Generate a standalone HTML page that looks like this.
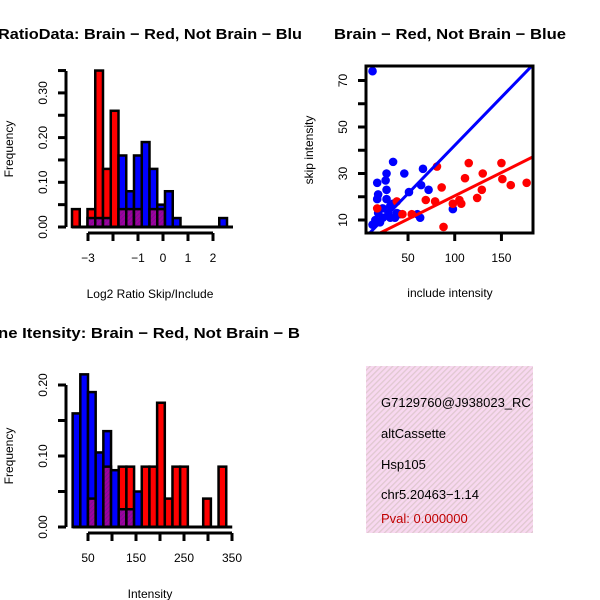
<!DOCTYPE html>
<html><head><meta charset="utf-8"><style>
html,body{margin:0;padding:0;background:#fff;}
svg{display:block;font-family:"Liberation Sans",sans-serif;}
</style></head><body>
<svg id="chart" width="600" height="600" viewBox="0 0 600 600" xmlns="http://www.w3.org/2000/svg">
<defs>
<pattern id="purp" width="3" height="3" patternUnits="userSpaceOnUse" patternTransform="rotate(45)">
<rect width="3" height="3" fill="#a000a0"/><rect width="1" height="3" fill="#7a1090"/></pattern>
<pattern id="pink" width="4" height="4" patternUnits="userSpaceOnUse" patternTransform="rotate(45)">
<rect width="4" height="4" fill="#f8d8f0"/><rect width="1.3" height="4" fill="#e0c8d0"/></pattern>
<clipPath id="c1"><rect x="0" y="0" width="300" height="300"/></clipPath>
<clipPath id="c4"><rect x="366" y="366" width="167" height="167"/></clipPath>
<clipPath id="c2"><rect x="366" y="66" width="167" height="167"/></clipPath>
</defs>
<g id="p1"></g>
<g id="p2" clip-path="url(#c2)"></g>
<g id="p2ax"></g>
<g id="p3"></g>
<g>
<rect x="366" y="366" width="167" height="167" fill="url(#pink)"/>
<g clip-path="url(#c4)" font-size="13">
<text x="381" y="407">G7129760@J938023_RC</text>
<text x="381" y="438">altCassette</text>
<text x="381" y="469">Hsp105</text>
<text x="381" y="499">chr5.20463−1.14</text>
<text x="381" y="523" fill="#c00000">Pval: 0.000000</text>
</g></g>
<text x="-2" y="39" font-size="15" font-weight="bold" textLength="304" lengthAdjust="spacingAndGlyphs">RatioData: Brain − Red, Not Brain − Blu</text>
<text x="334" y="39" font-size="15" font-weight="bold" textLength="232" lengthAdjust="spacingAndGlyphs">Brain − Red, Not Brain − Blue</text>
<text x="-2" y="338" font-size="15" font-weight="bold" textLength="302" lengthAdjust="spacingAndGlyphs">ne Itensity: Brain − Red, Not Brain − B</text>
</svg>
<script>
// Histogram 1 data (log2 ratio)
const h1Red = [0.04,0,0.04,0.35,0.13,0.26,0.04,0.04,0.04,0,0.04,0.04,0,0,0,0,0,0,0,0];
const h1Blue = [0,0,0.02,0.02,0.02,0,0.16,0.08,0.16,0.19,0.13,0.05,0.08,0.02,0,0,0,0,0,0.02];
const h1Start = -3.64, h1Bin = 0.31;
const h1YTicks = ["0.00","0.10","0.20","0.30"];
const h1XTicks = ["-3","-2","-1","0","1","2"];
// Histogram 2 data (intensity)
const h2Red = [0,0,0.04,0,0.085,0,0.085,0.085,0,0.085,0.085,0.175,0.04,0.085,0.085,0,0,0.04,0,0.085];
const h2Blue = [0.16,0.215,0.19,0.105,0.135,0.08,0.025,0.025,0.05,0,0,0,0,0,0,0,0,0,0,0];
const h2Start = 18, h2Bin = 16;
const h2YTicks = ["0.00","0.10","0.20"];
const h2XTicks = ["50","100","150","200","250","300","350"];
// Scatter data
const blueX = [12,34,27,46,17,26,27,18,17,27,51,66,64,72,31,34,41,60,63,98,12,15,18,23,31,36,20,23,38,29];
const blueY = [74,35,30,30,26,27,23,21,19,19,22,32,25,23,16,17,12.5,12.5,11,14.7,8,10,13,11,11,11,9,15,13,13];
const redX = [81,115,150,111,130,86,129,151,160,177,69,79,124,98,105,107,88,17,38,54,44];
const redY = [33,34.5,34.5,28,30,24,23,27.6,25,26,18.6,18,19.5,17,18.6,17,7,15,18,12.5,12.5];
const blueFit = [0.7,0.414];
const redFit = [0.4,0.2];
const sXTicks = [50,100,150];
const sYTicks = [10,20,30,40,50,60,70];
const sYLabels = ["10","","30","","50","","70"];

const NS="http://www.w3.org/2000/svg";
function mk(parent,tag,attrs,text){const e=document.createElementNS(NS,tag);for(const k in attrs)e.setAttribute(k,attrs[k]);if(text!==undefined)e.textContent=text;parent.appendChild(e);return e;}

function hist(g,red,blue,start,bin,x0v,xScale,y0,yScale,yTicks,yTickStep,xTicks,xTickVals,xTickShow,xlab,axisTop){
  const x=v=>x0v+v*xScale; const y=v=>y0-v*yScale;
  const n=red.length;
  for(let i=0;i<n;i++){
    const a=x(start+i*bin), b=x(start+(i+1)*bin);
    const r=red[i], bl=blue[i], mn=Math.min(r,bl), mx=Math.max(r,bl);
    if(mx>0){
      const el=mk(g,'rect',{x:a,y:y(mx),width:b-a,height:y(0)-y(mx),fill:r>=bl?'#ff0000':'#0000ff',stroke:'#000','stroke-width':2.5});
      
      
    }
    if(mn>0){
      const el=mk(g,'rect',{x:a,y:y(mn),width:b-a,height:y(0)-y(mn),fill:'url(#purp)',stroke:'#000','stroke-width':2.5});
      
      
    }
  }
  mk(g,'line',{x1:x(start),x2:x(start+n*bin)+6,y1:y(0),y2:y(0),stroke:'#000','stroke-width':3});
  const ax=mk(g,'g',{});
  
  
  mk(ax,'line',{x1:66,x2:66,y1:y(0),y2:axisTop,stroke:'#000','stroke-width':3});
  for(let v=0; y(v)>=axisTop-0.5; v+=0.05){ mk(ax,'line',{x1:58,x2:66,y1:y(v),y2:y(v),stroke:'#000','stroke-width':3}); }
  yTicks.forEach((t,i)=>{const yy=y(i*yTickStep);const tx=mk(ax,'text',{x:47,y:yy,'font-size':12,'text-anchor':'middle',transform:`rotate(-90 47 ${yy})`},t);});
  const xa=mk(g,'g',{});
  
  
  const xs=xTickVals.map(x);
  mk(xa,'line',{x1:xs[0],x2:xs[xs.length-1],y1:y0+6,y2:y0+6,stroke:'#000','stroke-width':3});
  xTicks.forEach((t,i)=>{const xx=xs[i];mk(xa,'line',{x1:xx,x2:xx,y1:y0+6,y2:y0+14,stroke:'#000','stroke-width':3});
    if(xTickShow[i]){const tx=mk(xa,'text',{x:xx,y:y0+35,'font-size':12,'text-anchor':'middle'},t.replace('-','−'));}});
  const xl=mk(g,'text',{x:150,y:y0+71,'font-size':12,'text-anchor':'middle'},xlab);
  
  
  const yl=mk(g,'text',{x:13,y:(y0+axisTop)/2,'font-size':12,'text-anchor':'middle',transform:`rotate(-90 13 ${(y0+axisTop)/2})`},'Frequency');
  
  
}
hist(document.getElementById('p1'),h1Red,h1Blue,h1Start,h1Bin,88+3*25,25,227,447,h1YTicks,0.1,h1XTicks,h1XTicks.map(Number),[1,0,1,1,1,1],'Log2 Ratio Skip/Include',71);
hist(document.getElementById('p3'),h2Red,h2Blue,h2Start,h2Bin,88-50*0.48,0.48,527,710,h2YTicks,0.1,h2XTicks,h2XTicks.map(Number),[1,0,1,0,1,0,1],'Intensity',385);

const sx=v=>366+(v-5)*0.934, sy=v=>220-(v-10)*2.325;
const g2=document.getElementById('p2'), ga=document.getElementById('p2ax');
blueX.forEach((v,i)=>{const c=mk(g2,'circle',{cx:sx(v),cy:sy(blueY[i]),r:4.3,fill:'#0000ff'});});
redX.forEach((v,i)=>{const c=mk(g2,'circle',{cx:sx(v),cy:sy(redY[i]),r:4.3,fill:'#ff0000'});});
[[blueFit,'#0000ff','blue-fit-line'],[redFit,'#ff0000','red-fit-line']].forEach(([f,col,nm])=>{
  const l=mk(g2,'line',{x1:sx(0),y1:sy(f[0]),x2:sx(200),y2:sy(f[0]+f[1]*200),stroke:col,'stroke-width':3});
  
  
});
mk(ga,'rect',{x:366,y:66,width:167,height:167,fill:'none',stroke:'#000','stroke-width':3});
sXTicks.forEach(v=>{mk(ga,'line',{x1:sx(v),x2:sx(v),y1:233,y2:241,stroke:'#000','stroke-width':3});const t=mk(ga,'text',{x:sx(v),y:262,'font-size':12,'text-anchor':'middle'},String(v));});
sYTicks.forEach((v,i)=>{mk(ga,'line',{x1:358,x2:366,y1:sy(v),y2:sy(v),stroke:'#000','stroke-width':3});if(sYLabels[i]){const t=mk(ga,'text',{x:347,y:sy(v),'font-size':12,'text-anchor':'middle',transform:`rotate(-90 347 ${sy(v)})`},sYLabels[i]);}});
const sxl=mk(ga,'text',{x:450,y:297,'font-size':12,'text-anchor':'middle'},'include intensity');


const syl=mk(ga,'text',{x:313,y:150,'font-size':12,'text-anchor':'middle',transform:'rotate(-90 313 150)'},'skip intensity');


</script>
</body></html>
